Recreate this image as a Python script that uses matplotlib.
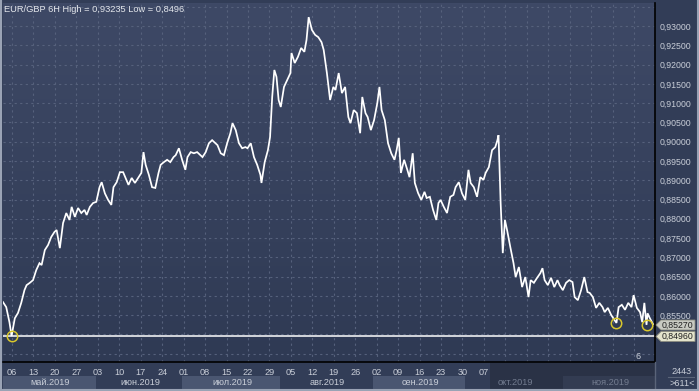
import numpy as np
import matplotlib
matplotlib.use("Agg")
import matplotlib.pyplot as plt
from matplotlib.patches import Rectangle, Polygon
from matplotlib.lines import Line2D
from matplotlib.colors import LinearSegmentedColormap

# ---------------- data ----------------
title_text = "EUR/GBP 6H High = 0,93235 Low = 0,8496"

# 6H bar index (time) and close price
bar = [0, 3, 6, 8, 11, 14, 17, 20, 22, 25, 28, 31, 34, 36, 39, 42, 45, 48, 50, 53,
       56, 59, 62, 64, 67, 70, 73, 76, 78, 81, 84, 87, 90, 92, 95, 98, 101, 103, 106, 109,
       112, 115, 117, 120, 123, 126, 129, 131, 133, 136, 139, 142, 145, 147, 150, 153, 156, 159, 161, 164,
       167, 170, 172, 175, 178, 181, 184, 186, 189, 192, 195, 198, 200, 203, 206, 209, 212, 214, 217, 220,
       223, 226, 228, 231, 234, 237, 240, 241, 244, 247, 249, 251, 253, 255, 257, 259, 262, 265, 268, 269,
       272, 275, 278, 281, 283, 285, 288, 291, 294, 297, 299, 302, 305, 308, 310, 313, 316, 319, 322, 324,
       327, 330, 333, 335, 338, 340, 343, 346, 349, 351, 353, 356, 359, 362, 365, 367, 369, 371, 374, 377,
       379, 382, 384, 387, 390, 393, 395, 398, 401, 404, 406, 408, 411, 414, 417, 420, 422, 425, 428, 431,
       434, 436, 439, 442, 445, 448, 450, 453, 456, 459, 461, 462, 464, 466, 468, 470, 473, 476, 478, 481,
       484, 487, 490, 492, 495, 498, 501, 503, 505, 508, 511, 514, 517, 519, 522, 525, 528, 531, 533, 536,
       539, 542, 545, 547, 550, 553, 556, 559, 561, 564, 567, 570, 572, 574, 577, 580, 583, 586, 588, 591,
       594, 596, 598, 600, 601, 603, 606]

close = [0.8584, 0.8571, 0.8532, 0.8496, 0.8542, 0.8556, 0.8582, 0.8615, 0.8628, 0.8634,
         0.8641, 0.8667, 0.8685, 0.8680, 0.8719, 0.8732, 0.8753, 0.8766, 0.8771, 0.8724,
         0.8789, 0.8815, 0.8797, 0.8831, 0.8805, 0.8828, 0.8815, 0.8823, 0.8810, 0.8831,
         0.8841, 0.8844, 0.8882, 0.8895, 0.8866, 0.8849, 0.8836, 0.8882, 0.8895, 0.8921,
         0.8921, 0.8901, 0.8888, 0.8906, 0.8893, 0.8906, 0.8919, 0.8973, 0.8940, 0.8914,
         0.8882, 0.8880, 0.8919, 0.8940, 0.8947, 0.8953, 0.8947, 0.8960, 0.8965, 0.8983,
         0.8953, 0.8927, 0.8960, 0.8973, 0.8970, 0.8973, 0.8965, 0.8960, 0.8973, 0.8996,
         0.9004, 0.8996, 0.8991, 0.8970, 0.8965, 0.8996, 0.9022, 0.9048, 0.9030, 0.8996,
         0.8983, 0.8986, 0.8983, 0.8996, 0.8960, 0.8940, 0.8914, 0.8893, 0.8947, 0.8978,
         0.9012, 0.9116, 0.9186, 0.9168, 0.9108, 0.9090, 0.9142, 0.9160, 0.9178, 0.9230,
         0.9204, 0.9220, 0.9243, 0.9233, 0.9264, 0.9323, 0.9290, 0.9277, 0.9271, 0.9258,
         0.9238, 0.9178, 0.9108, 0.9142, 0.9134, 0.9178, 0.9126, 0.9142, 0.9064, 0.9048,
         0.9082, 0.9074, 0.9022, 0.9116, 0.9074, 0.9064, 0.9030, 0.9056, 0.9100, 0.9142,
         0.9082, 0.9056, 0.8996, 0.8970, 0.8953, 0.8978, 0.9010, 0.8919, 0.8953, 0.8927,
         0.8908, 0.8970, 0.8893, 0.8867, 0.8849, 0.8870, 0.8854, 0.8857, 0.8823, 0.8797,
         0.8841, 0.8849, 0.8831, 0.8815, 0.8857, 0.8862, 0.8882, 0.8895, 0.8866, 0.8849,
         0.8927, 0.8893, 0.8882, 0.8857, 0.8908, 0.8901, 0.8919, 0.8934, 0.8978, 0.8986,
         0.9004, 0.9017, 0.8841, 0.8711, 0.8797, 0.8771, 0.8727, 0.8685, 0.8649, 0.8675,
         0.8623, 0.8649, 0.8597, 0.8641, 0.8634, 0.8647, 0.8659, 0.8672, 0.8641, 0.8628,
         0.8647, 0.8623, 0.8641, 0.8628, 0.8615, 0.8634, 0.8641, 0.8636, 0.8597, 0.8589,
         0.8615, 0.8649, 0.8610, 0.8608, 0.8597, 0.8569, 0.8582, 0.8571, 0.8558, 0.8569,
         0.8551, 0.8538, 0.8530, 0.8571, 0.8577, 0.8564, 0.8582, 0.8571, 0.8602, 0.8569,
         0.8558, 0.8532, 0.8582, 0.8525, 0.8555, 0.8543, 0.8527]

low_level = 0.8496
last_price = 0.8527
low_marks = [8, 572, 600]  # bars of the marked lows

price_ticks = [0.845, 0.850, 0.855, 0.860, 0.865, 0.870, 0.875, 0.880, 0.885,
               0.890, 0.895, 0.900, 0.905, 0.910, 0.915, 0.920, 0.925, 0.930, 0.935]
price_labels_shown = [0.855, 0.860, 0.865, 0.870, 0.875, 0.880, 0.885, 0.890, 0.895,
                      0.900, 0.905, 0.910, 0.915, 0.920, 0.925, 0.930]

week_labels = ["06", "13", "20", "27", "03", "10", "17", "24", "01", "08", "15", "22",
               "29", "05", "12", "19", "26", "02", "09", "16", "23", "30", "07", "14",
               "21", "28", "04", "11", "18", "25"]
month_labels = ["май.2019", "июн.2019", "июл.2019", "авг.2019", "сен.2019", "окт.2019", "ноя.2019"]
bars_count_text = "2443"
scroll_text = ">611<"
corner_digit = "6"

# ---------------- layout / style ----------------
W, H = 699, 391
FONT = "Liberation Sans"
plt.rcParams["font.family"] = [FONT, "DejaVu Sans"]

fig = plt.figure(figsize=(W / 100, H / 100), dpi=100)
fig.patch.set_facecolor("#323d57")

def fx(x):
    return x / W

def fy(y):
    return 1 - y / H

# plot area in pixels
L, R, T, B = 3, 655, 3, 362
ax = fig.add_axes([fx(L), fy(B), (R - L) / W, (B - T) / H])

bars_per_px = 0.9324
XLIM = (0, (R - L) * bars_per_px)
YLIM = (0.842868, 0.935965)

# gradient background
grad = np.linspace(0, 1, 256).reshape(-1, 1)
cmap = LinearSegmentedColormap.from_list("bg", ["#3e4966", "#2f3a54"])
ax.imshow(grad, aspect="auto", cmap=cmap, extent=[XLIM[0], XLIM[1], YLIM[0], YLIM[1]],
          zorder=0, origin="upper")
ax.set_xlim(*XLIM)
ax.set_ylim(*YLIM)

# week ticks
first_tick = (12 - L) * bars_per_px
week_pos = [first_tick + 20 * k for k in range(len(week_labels))]
ax.set_xticks(week_pos)
ax.set_xticklabels(week_labels)
ax.set_yticks(price_ticks)
ax.set_yticklabels([("%.5f" % v).replace(".", ",") if any(abs(v - s) < 1e-9 for s in price_labels_shown) else ""
                    for v in price_ticks])
ax.yaxis.tick_right()
ax.tick_params(axis="y", length=0, pad=3.5, labelsize=6.3, labelcolor="#c9ced8")
ax.tick_params(axis="x", length=0, pad=4.5, labelsize=6.6, labelcolor="#c9ced8")
grey_from = 23
for i, lab in enumerate(ax.xaxis.get_ticklabels()):
    if i >= grey_from:
        lab.set_color("#737c90")

ax.grid(True, color="#56617c", linestyle=(0, (2, 3)), linewidth=0.8)
for s in ["left", "top"]:
    ax.spines[s].set_visible(False)
for s in ["right", "bottom"]:
    ax.spines[s].set_color("#000000")
    ax.spines[s].set_linewidth(1.2)

# price line
ax.plot(bar, close, color="#ffffff", linewidth=1.25, zorder=3, solid_joinstyle="miter")
# low level line
ax.axhline(low_level, color="#ffffff", linewidth=1.1, zorder=2)
# circles on lows
for b in low_marks:
    i = bar.index(b)
    ax.plot(b, close[i], marker="o", markersize=7.5, markerfacecolor="none",
            markeredgecolor="#d9c72c", markeredgewidth=1.1, zorder=4, linestyle="none")

# corner digit inside plot
ax.text((638 - L) * bars_per_px, YLIM[0] + (362 - 357) / 3856, corner_digit, color="#c9ced8",
        fontsize=6.6, ha="center", va="center", zorder=5)

# title
fig.text(fx(4), fy(9), title_text, color="#e4e7ec", fontsize=6.7, ha="left", va="center")

# bottom month row
month_edges = [3, 96, 182, 280, 373, 465, 563, 655]
fig.patches.append(Rectangle((fx(490), fy(389)), (655 - 490) / W, (389 - 363) / H,
                             transform=fig.transFigure, facecolor="#2a3246", edgecolor="none", zorder=0))
box_colors = ["#4a5671", None, "#4a5671", None, "#4a5671", None, "#333c52"]
for k, lab in enumerate(month_labels):
    x0, x1 = month_edges[k], month_edges[k + 1]
    if box_colors[k] is not None:
        fig.patches.append(Rectangle((fx(x0), fy(389)), (x1 - x0) / W, (389 - 376) / H,
                                     transform=fig.transFigure, facecolor=box_colors[k],
                                     edgecolor="none", zorder=1))
    col = "#737c90" if k >= 5 else "#c9ced8"
    fig.text(fx((x0 + x1) / 2 + 1), fy(382.5), lab, color=col, fontsize=6.6,
             ha="center", va="center", zorder=3)

# right bottom panel
fig.add_artist(Line2D([fx(655), fx(655)], [fy(362), fy(389)], color="#5a6479", linewidth=1))
fig.text(fx(682), fy(371), bars_count_text, color="#c9ced8", fontsize=6.6, ha="center", va="center")
fig.add_artist(Line2D([fx(668), fx(694)], [fy(377), fy(377)], color="#5a6479", linewidth=0.8))
fig.text(fx(682), fy(383), scroll_text, color="#c9ced8", fontsize=6.6, ha="center", va="center")

# price tags
def tag(yc, text, face):
    pts = [(656, yc), (661, yc - 5), (695, yc - 5), (695, yc + 5), (661, yc + 5)]
    fig.patches.append(Polygon([(fx(a), fy(b)) for a, b in pts], closed=True,
                               transform=fig.transFigure, facecolor=face,
                               edgecolor="#8c8c80", linewidth=0.6, zorder=5))
    fig.text(fx(662), fy(yc), text, color="#202020", fontsize=6.3, ha="left",
             va="center", zorder=6)

tag(325, ("%.5f" % last_price).replace(".", ","), "#c8cac2")
tag(336.5, ("%.5f" % low_level).replace(".", ","), "#e4e4cc")

# outer frame
frame_col = "#9aa3b5"
fig.add_artist(Line2D([fx(1), fx(1)], [fy(0), fy(390)], color=frame_col, linewidth=1.5))
fig.add_artist(Line2D([fx(698), fx(698)], [fy(0), fy(390)], color=frame_col, linewidth=1.5))
fig.add_artist(Line2D([fx(0), fx(699)], [fy(390), fy(390)], color=frame_col, linewidth=1.5))

fig.savefig("out.png", dpi=100, facecolor=fig.get_facecolor())
